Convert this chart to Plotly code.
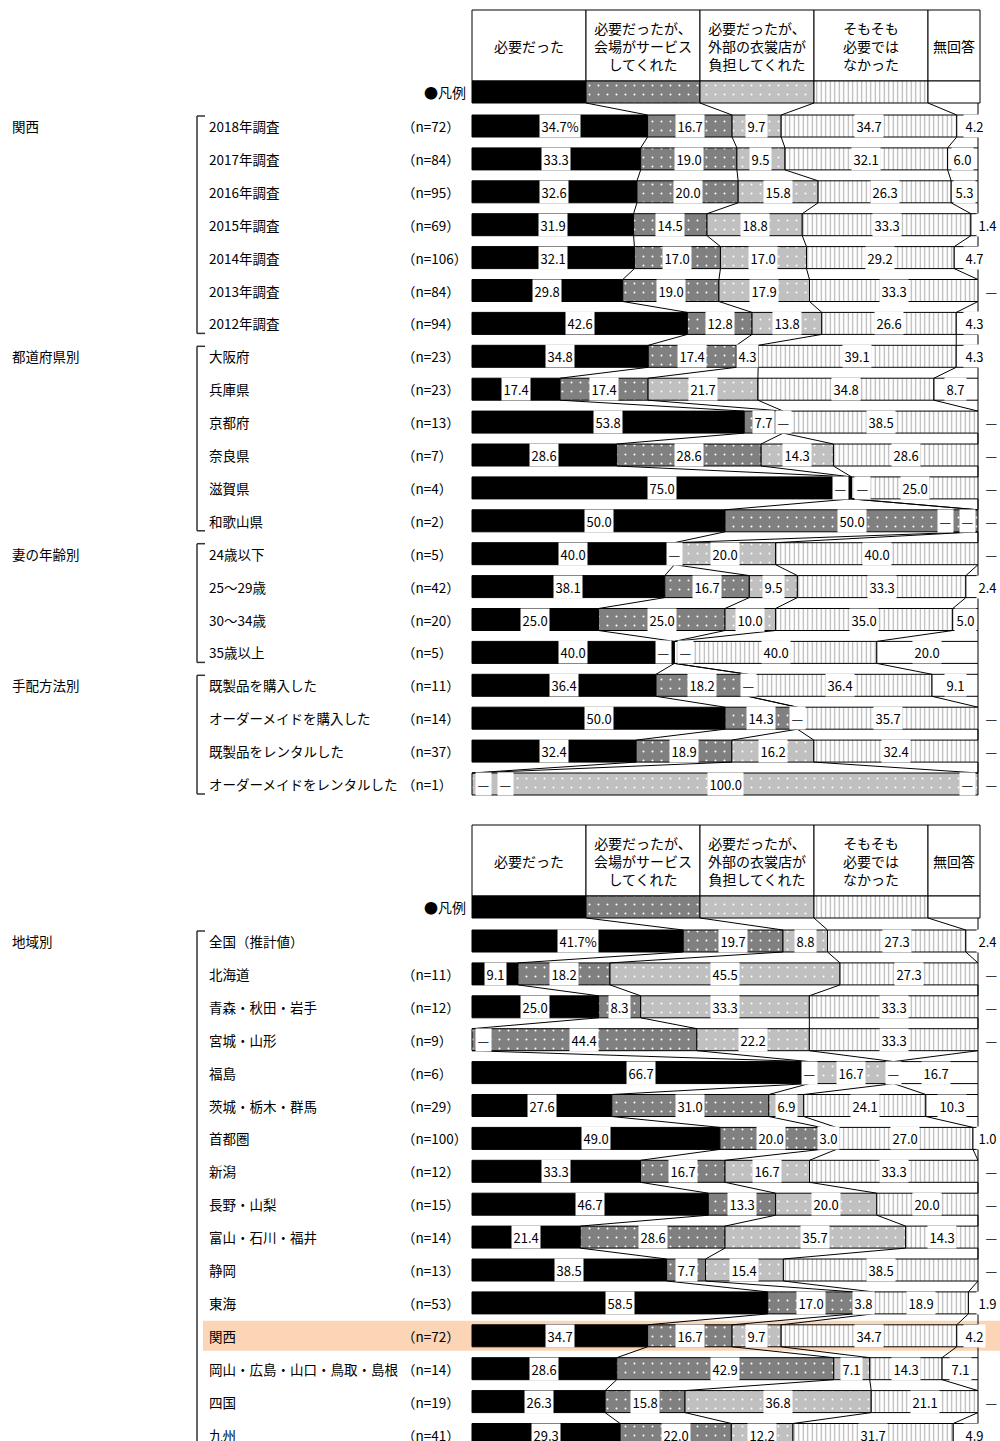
import plotly.graph_objects as go

# ---- data ----
CATEGORIES = ['必要だった', '必要だったが、<br>会場がサービス<br>してくれた',
              '必要だったが、<br>外部の衣裳店が<br>負担してくれた',
              'そもそも<br>必要では<br>なかった', '無回答']

TOP_LABELS = ['2018年調査', '2017年調査', '2016年調査', '2015年調査', '2014年調査', '2013年調査', '2012年調査',
              '大阪府', '兵庫県', '京都府', '奈良県', '滋賀県', '和歌山県',
              '24歳以下', '25～29歳', '30～34歳', '35歳以上',
              '既製品を購入した', 'オーダーメイドを購入した', '既製品をレンタルした', 'オーダーメイドをレンタルした']
TOP_N = [72, 84, 95, 69, 106, 84, 94, 23, 23, 13, 7, 4, 2, 5, 42, 20, 5, 11, 14, 37, 1]
TOP_GROUPS = ['関西', '都道府県別', '妻の年齢別', '手配方法別']
TOP_GROUP_SIZES = [7, 6, 4, 4]
TOP_NEEDED = [34.7, 33.3, 32.6, 31.9, 32.1, 29.8, 42.6, 34.8, 17.4, 53.8, 28.6, 75.0, 50.0,
              40.0, 38.1, 25.0, 40.0, 36.4, 50.0, 32.4, 0]
TOP_VENUE = [16.7, 19.0, 20.0, 14.5, 17.0, 19.0, 12.8, 17.4, 17.4, 7.7, 28.6, 0, 50.0,
             0, 16.7, 25.0, 0, 18.2, 14.3, 18.9, 0]
TOP_SHOP = [9.7, 9.5, 15.8, 18.8, 17.0, 17.9, 13.8, 4.3, 21.7, 0, 14.3, 0, 0,
            20.0, 9.5, 10.0, 0, 0, 0, 16.2, 100.0]
TOP_NOT = [34.7, 32.1, 26.3, 33.3, 29.2, 33.3, 26.6, 39.1, 34.8, 38.5, 28.6, 25.0, 0,
           40.0, 33.3, 35.0, 40.0, 36.4, 35.7, 32.4, 0]
TOP_NA = [4.2, 6.0, 5.3, 1.4, 4.7, 0, 4.3, 4.3, 8.7, 0, 0, 0, 0,
          0, 2.4, 5.0, 20.0, 9.1, 0, 0, 0]

BOT_LABELS = ['全国（推計値）', '北海道', '青森・秋田・岩手', '宮城・山形', '福島', '茨城・栃木・群馬',
              '首都圏', '新潟', '長野・山梨', '富山・石川・福井', '静岡', '東海', '関西',
              '岡山・広島・山口・鳥取・島根', '四国', '九州']
BOT_N = [None, 11, 12, 9, 6, 29, 100, 12, 15, 14, 13, 53, 72, 14, 19, 41]
BOT_GROUPS = ['地域別']
BOT_GROUP_SIZES = [16]
BOT_NEEDED = [41.7, 9.1, 25.0, 0, 66.7, 27.6, 49.0, 33.3, 46.7, 21.4, 38.5, 58.5, 34.7, 28.6, 26.3, 29.3]
BOT_VENUE = [19.7, 18.2, 8.3, 44.4, 0, 31.0, 20.0, 16.7, 13.3, 28.6, 7.7, 17.0, 16.7, 42.9, 15.8, 22.0]
BOT_SHOP = [8.8, 45.5, 33.3, 22.2, 16.7, 6.9, 3.0, 16.7, 20.0, 35.7, 15.4, 3.8, 9.7, 7.1, 36.8, 12.2]
BOT_NOT = [27.3, 27.3, 33.3, 33.3, 0, 24.1, 27.0, 33.3, 20.0, 14.3, 38.5, 18.9, 34.7, 14.3, 21.1, 31.7]
BOT_NA = [2.4, 0, 0, 0, 16.7, 10.3, 1.0, 0, 0, 0, 0, 1.9, 4.2, 7.1, 0, 4.9]
BOT_HIGHLIGHT = '関西'

# ---- layout constants (pixels) ----
W, H = 1000, 1441
PX0, PX100 = 472, 978
PXPER = (PX100 - PX0) / 100.0
HEADER_PX = [472, 586, 700, 814, 928, 980]
ROW_PITCH = 32.9
BAR_H = 22
FONT = 'Noto Sans CJK JP'


def xp(px):
    return (px - PX0) / PXPER


STYLES = [
    dict(color='black'),
    dict(color='#808080', pattern=dict(shape='.', fgcolor='white', bgcolor='#808080',
                                       size=9, solidity=0.04, fillmode='replace')),
    dict(color='#c0c0c0', pattern=dict(shape='.', fgcolor='white', bgcolor='#c0c0c0',
                                       size=9, solidity=0.04, fillmode='replace')),
    dict(color='white', pattern=dict(shape='|', fgcolor='#b0b0b0', bgcolor='white',
                                     size=4.5, solidity=0.25, fillmode='replace')),
    dict(color='white'),
]

fig = go.Figure()
shapes = []
annotations = []


def text(px, y, s, anchor='left', size=13.5, bg=None):
    a = dict(x=xp(px), y=y, xref='x', yref='y', text=s, showarrow=False, xanchor=anchor,
             yanchor='middle', font=dict(family=FONT, size=size, color='black'))
    if bg:
        a.update(bgcolor=bg, borderpad=1.5)
    annotations.append(a)


def row_bounds(vals):
    total = sum(vals)
    cum = [0.0]
    for v in vals:
        cum.append(cum[-1] + v / total * 100)
    return cum


def value_labels(vals, cum, first):
    out = []
    k = 0
    while k < 4:
        if vals[k] == 0:
            j = k
            while j < 4 and vals[j] == 0:
                j += 1
            m = j - k
            b = PX0 + cum[k] * PXPER
            for i in range(m):
                if cum[k] < 0.01:
                    px = b + 11 + 22 * i
                elif cum[k] > 99.9:
                    px = b - 11 - 22 * (m - 1 - i)
                else:
                    px = b + 22 * (i - (m - 1) / 2)
                out.append((px, '—'))
            k = j
        else:
            px = PX0 + (cum[k] + cum[k + 1]) / 2 * PXPER
            s = f'{vals[k]:.1f}' + ('%' if first and k == 0 else '')
            out.append((px, s))
            k += 1
    v = vals[4]
    if v == 0:
        out.append((991, '—'))
    elif v < 3:
        out.append((987, f'{v:.1f}'))
    elif v < 5:
        out.append((974, f'{v:.1f}'))
    else:
        out.append((PX0 + (cum[4] + cum[5]) / 2 * PXPER, f'{v:.1f}'))
    return out


def draw_panel(top, labels, ns, series, groups, group_sizes, highlight=None):
    legend_y = top + 82
    y0 = top + 116
    rows = [y0 + i * ROW_PITCH for i in range(len(labels))]

    # header boxes
    for i in range(5):
        shapes.append(dict(type='rect', xref='x', yref='y', x0=xp(HEADER_PX[i]), x1=xp(HEADER_PX[i + 1]),
                           y0=top, y1=legend_y - BAR_H / 2, line=dict(color='black', width=1),
                           fillcolor='white', layer='below'))
        text((HEADER_PX[i] + HEADER_PX[i + 1]) / 2, (top + legend_y - BAR_H / 2) / 2, CATEGORIES[i],
             anchor='center', size=14)
    text(468, legend_y, '●凡例', anchor='right', size=14)

    # legend row bars
    hb = [xp(p) for p in HEADER_PX]
    for i in range(5):
        fig.add_trace(go.Bar(x=[hb[i + 1] - hb[i]], base=[hb[i]], y=[legend_y], orientation='h',
                             width=BAR_H, marker=dict(**STYLES[i], line=dict(color='black', width=1)),
                             hoverinfo='skip'))

    # highlight band
    if highlight in labels:
        yc = rows[labels.index(highlight)]
        shapes.append(dict(type='rect', xref='x', yref='y', x0=xp(203), x1=xp(1000),
                           y0=yc - 15, y1=yc + 15, line=dict(width=0), fillcolor='#fbd5b5', layer='below'))

    bounds = [row_bounds([s[i] for s in series]) for i in range(len(labels))]

    # bars
    for k in range(5):
        xs, bases = [], []
        for i in range(len(labels)):
            v = series[k][i]
            xs.append(bounds[i][k + 1] - bounds[i][k] if v > 0 else None)
            bases.append(bounds[i][k])
        fig.add_trace(go.Bar(x=xs, base=bases, y=rows, orientation='h', width=BAR_H,
                             marker=dict(**STYLES[k], line=dict(color='black', width=1)),
                             hoverinfo='skip'))

    # connector lines
    cx, cy = [], []
    prev = [xp(p) for p in HEADER_PX[1:5]] + [100]
    prev_y = legend_y + BAR_H / 2
    for i, yc in enumerate(rows):
        cur = bounds[i][1:5] + [100]
        for a, b in zip(prev, cur):
            cx += [a, b, None]
            cy += [prev_y, yc - BAR_H / 2, None]
        prev, prev_y = cur, yc + BAR_H / 2
    fig.add_trace(go.Scatter(x=cx, y=cy, mode='lines', line=dict(color='black', width=1),
                             hoverinfo='skip'))

    # value labels
    for i, yc in enumerate(rows):
        vals = [s[i] for s in series]
        for px, s in value_labels(vals, bounds[i], i == 0):
            text(px, yc, s, anchor='center', size=13, bg='white')

    # row labels, n, groups and brackets
    for i, yc in enumerate(rows):
        text(207, yc, labels[i])
        if ns[i] is not None:
            text(400, yc, f'（n={ns[i]}）')
    start = 0
    for g, size in zip(groups, group_sizes):
        ya = rows[start] - 10
        yb = rows[start + size - 1] + 10
        text(10, rows[start], g)
        shapes.append(dict(type='line', xref='x', yref='y', x0=xp(197), x1=xp(197), y0=ya, y1=yb,
                           line=dict(color='#333', width=1.5)))
        shapes.append(dict(type='line', xref='x', yref='y', x0=xp(197), x1=xp(205), y0=ya, y1=ya,
                           line=dict(color='#333', width=1.5)))
        shapes.append(dict(type='line', xref='x', yref='y', x0=xp(197), x1=xp(205), y0=yb, y1=yb,
                           line=dict(color='#333', width=1.5)))
        start += size


draw_panel(10, TOP_LABELS, TOP_N, [TOP_NEEDED, TOP_VENUE, TOP_SHOP, TOP_NOT, TOP_NA],
           TOP_GROUPS, TOP_GROUP_SIZES)
draw_panel(825, BOT_LABELS, BOT_N, [BOT_NEEDED, BOT_VENUE, BOT_SHOP, BOT_NOT, BOT_NA],
           BOT_GROUPS, BOT_GROUP_SIZES, highlight=BOT_HIGHLIGHT)

fig.update_layout(
    width=W, height=H, margin=dict(l=0, r=0, t=0, b=0, pad=0),
    barmode='overlay', showlegend=False,
    plot_bgcolor='white', paper_bgcolor='white',
    xaxis=dict(range=[xp(0), xp(W)], visible=False, fixedrange=True, domain=[0, 1]),
    yaxis=dict(range=[H, 0], visible=False, fixedrange=True, domain=[0, 1]),
    shapes=shapes, annotations=annotations,
)

# drop the page's default body margin so the figure fills the window exactly
fig.write_html('out.html', config={'displayModeBar': False},
               post_script="document.body.style.margin='0';document.body.style.overflow='hidden';")
